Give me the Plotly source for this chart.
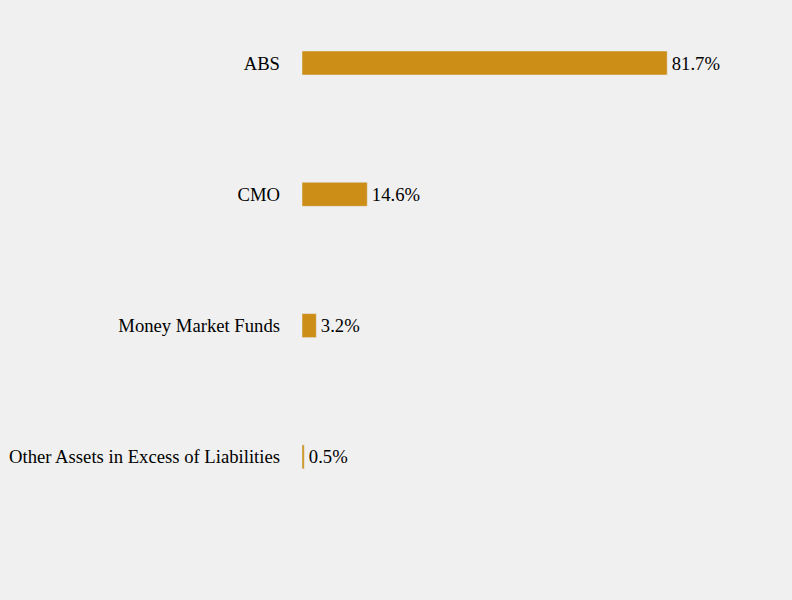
import plotly.graph_objects as go

categories = ["ABS", "CMO", "Money Market Funds", "Other Assets in Excess of Liabilities"]
values = [81.7, 14.6, 3.2, 0.5]
labels = ["81.7%", "14.6%", "3.2%", "0.5%"]

fig = go.Figure()
fig.add_trace(go.Bar(
    x=values, y=categories, orientation="h",
    marker=dict(color="#CC8E16"),
    width=0.183,
    text=labels, texttemplate="\u200a%{text}", textposition="outside", cliponaxis=False,
    textfont=dict(color="#000000", size=18.67),
))

fig.update_layout(
    width=792, height=600,
    paper_bgcolor="#f0f0f0", plot_bgcolor="#f0f0f0",
    font=dict(family="Liberation Serif, Times New Roman, serif", size=18.67, color="#000000"),
    margin=dict(l=302, r=43, t=0, b=78),
    showlegend=False,
    xaxis=dict(range=[0, 100], visible=False, showgrid=False, zeroline=False),
    yaxis=dict(range=[3.496, -0.48], showgrid=False, zeroline=False,
               ticks="", ticklabelstandoff=21, showline=False),
)

fig.write_html("out.html", config={"displayModeBar": False},
               post_script="document.body.style.margin='0';")
